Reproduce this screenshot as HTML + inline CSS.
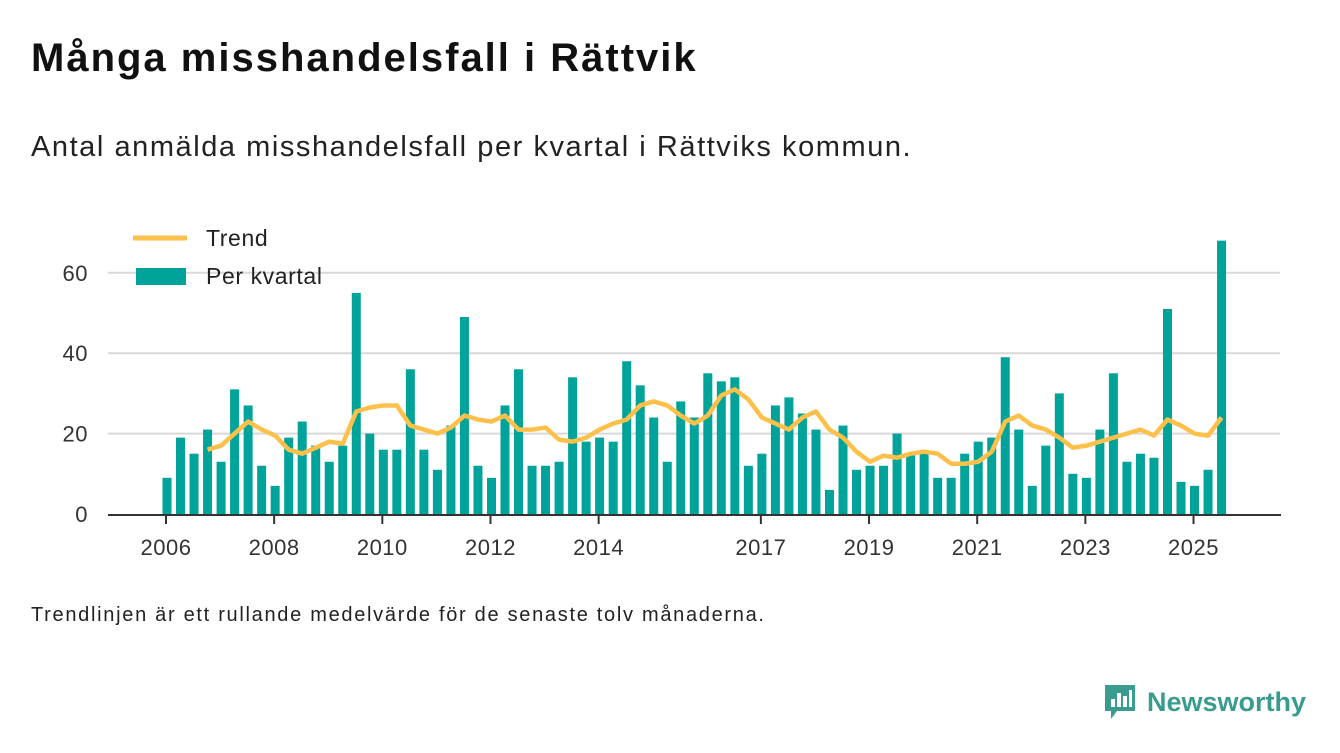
<!DOCTYPE html>
<html><head><meta charset="utf-8"><style>
body{margin:0;width:1340px;height:753px;background:#fff;font-family:"Liberation Sans","DejaVu Sans",sans-serif;overflow:hidden;position:relative}
.t{position:absolute;margin:0;color:#111;white-space:nowrap}
</style></head><body>
<h1 class="t" style="left:31px;top:36px;font-size:40px;font-weight:bold;letter-spacing:2px">Många misshandelsfall i Rättvik</h1>
<p class="t" style="left:31px;top:131px;font-size:29px;color:#222;letter-spacing:1.55px">Antal anmälda misshandelsfall per kvartal i Rättviks kommun.</p>
<svg id="chart" width="1340" height="600" style="position:absolute;left:0;top:0"></svg>
<p class="t" style="left:31px;top:604px;font-size:20px;color:#222;letter-spacing:1.7px">Trendlinjen är ett rullande medelvärde för de senaste tolv månaderna.</p>
<div style="position:absolute;left:1103px;top:683px;display:flex;align-items:center">
<svg width="34" height="38"><path d="M2 2h30v26H14l-6 8v-8H2z" fill="#3a9c8f"/><rect x="8" y="16" width="4" height="8" fill="#fff"/><rect x="14" y="10" width="4" height="14" fill="#fff"/><rect x="20" y="13" width="4" height="11" fill="#fff"/><rect x="26" y="7" width="3" height="17" fill="#fff"/></svg>
<span style="font-size:27px;font-weight:bold;color:#3a9c8f;margin-left:10px">Newsworthy</span></div>
<script>
const quarterly=[9,19,15,21,13,31,27,12,7,19,23,17,13,17,55,20,16,16,36,16,11,22,49,12,9,27,36,12,12,13,34,18,19,18,38,32,24,13,28,24,35,33,34,12,15,27,29,25,21,6,22,11,12,12,20,15,15,9,9,15,18,19,39,21,7,17,30,10,9,21,35,13,15,14,51,8,7,11,68];
const trend=[16,17,20,23,21,19.5,16,15,16.5,18,17.5,25.5,26.5,27,27,22,21,20,21.5,24.5,23.5,23,24.5,21,21,21.5,18.5,18,19,21,22.5,23.5,27,28,27,24.5,22.5,24.5,29.5,31,28.5,24,22.5,21,24,25.5,21,19,15.5,13,14.5,14,15,15.5,15,12.5,12.5,13,15.5,23,24.5,22,21,19,16.5,17,18,19,20,21,19.5,23.5,22,20,19.5,24];
const trendStart=3;
const yTicks=[0,20,40,60];
const xTickLabels=["2006","2008","2010","2012","2014","2017","2019","2021","2023","2025"];
const xTickQuarters=[0,8,16,24,32,44,52,60,68,76];
const svg=document.getElementById('chart');
const NS='http://www.w3.org/2000/svg';
const y=v=>514-v*4.02;
const x=q=>167+q*13.52;
function mk(tag,attrs){const e=document.createElementNS(NS,tag);for(const k in attrs)e.setAttribute(k,attrs[k]);svg.appendChild(e);return e;}
yTicks.forEach(v=>{
 if(v>0){const g=mk('line',{x1:108,x2:1280,y1:y(v),y2:y(v),stroke:'#d9d9d9','stroke-width':2});
 
 }
 const t=mk('text',{x:88,y:y(v)+8,'text-anchor':'end','font-size':22,fill:'#333','letter-spacing':0.5});t.textContent=v;
 
 
});
quarterly.forEach((v,i)=>{
 const r=mk('rect',{x:x(i)-4.5,y:y(v),width:9,height:514-y(v),fill:'#00a39a'});
 
 
});
const ax=mk('line',{x1:108,x2:1281,y1:515,y2:515,stroke:'#333','stroke-width':2});


xTickLabels.forEach((l,i)=>{
 const q=xTickQuarters[i];
 const tk=mk('line',{x1:x(q)-1,x2:x(q)-1,y1:515,y2:524,stroke:'#333','stroke-width':2});
 
 
 const t=mk('text',{x:x(q)-1,y:555,'text-anchor':'middle','font-size':22,fill:'#333','letter-spacing':0.5});t.textContent=l;
 
 
});
const pts=trend.map((v,i)=>x(i+trendStart)+','+y(v)).join(' ');
const pl=mk('polyline',{points:pts,fill:'none',stroke:'#fdc04a','stroke-width':4.5,'stroke-linejoin':'round'});


const l1=mk('line',{x1:133,x2:187,y1:238,y2:238,stroke:'#fdc04a','stroke-width':5});


const t1=mk('text',{x:206,y:246,'font-size':23,fill:'#222','letter-spacing':0.6});t1.textContent='Trend';


const l2=mk('rect',{x:136,y:268,width:50,height:17,fill:'#00a39a'});


const t2=mk('text',{x:206,y:284,'font-size':23,fill:'#222','letter-spacing':0.6});t2.textContent='Per kvartal';


</script>
</body></html>
